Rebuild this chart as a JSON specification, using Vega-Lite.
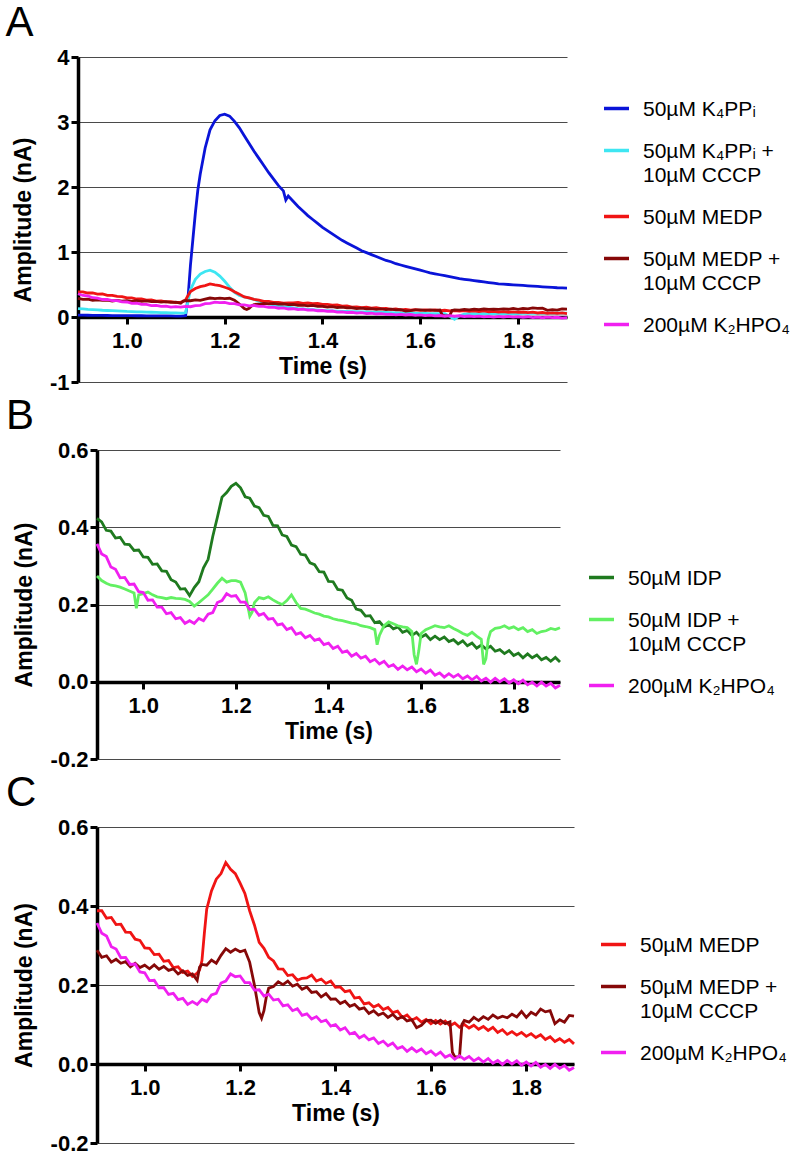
{
"$schema":"https://vega.github.io/schema/vega-lite/v6.json",
"background":"white",
"padding":{"left":5,"top":2,"right":5,"bottom":0},
"spacing":2,
"resolve":{"scale":{"color":"independent"},"legend":{"color":"independent"}},
"datasets":{"traces":[
{"t":0.90,"P":0.03,"PC":0.13,"M":0.388,"MC":0.288,"H":0.357,"I":0.423,"IC":0.274},
{"t":0.91,"P":0.028,"PC":0.124,"M":0.388,"MC":0.270,"H":0.331,"I":0.414,"IC":0.262},
{"t":0.92,"P":0.027,"PC":0.118,"M":0.369,"MC":0.274,"H":0.324,"I":0.392,"IC":0.255},
{"t":0.93,"P":0.026,"PC":0.114,"M":0.371,"MC":0.258,"H":0.297,"I":0.390,"IC":0.250},
{"t":0.94,"P":0.025,"PC":0.110,"M":0.353,"MC":0.265,"H":0.291,"I":0.372,"IC":0.248},
{"t":0.95,"P":0.024,"PC":0.104,"M":0.354,"MC":0.255,"H":0.269,"I":0.374,"IC":0.245},
{"t":0.96,"P":0.023,"PC":0.100,"M":0.334,"MC":0.259,"H":0.270,"I":0.356,"IC":0.240},
{"t":0.97,"P":0.022,"PC":0.097,"M":0.333,"MC":0.246,"H":0.252,"I":0.355,"IC":0.235},
{"t":0.98,"P":0.022,"PC":0.093,"M":0.316,"MC":0.255,"H":0.253,"I":0.340,"IC":0.230},
{"t":0.985,"IC":0.19},
{"t":0.99,"P":0.021,"PC":0.090,"M":0.313,"MC":0.244,"H":0.233,"I":0.341,"IC":0.225},
{"t":1.00,"P":0.020,"PC":0.085,"M":0.294,"MC":0.250,"H":0.231,"I":0.323,"IC":0.228},
{"t":1.01,"P":0.020,"PC":0.083,"M":0.293,"MC":0.241,"H":0.211,"I":0.322,"IC":0.232},
{"t":1.02,"P":0.019,"PC":0.080,"M":0.277,"MC":0.251,"H":0.212,"I":0.304,"IC":0.225},
{"t":1.03,"P":0.019,"PC":0.078,"M":0.278,"MC":0.240,"H":0.193,"I":0.305,"IC":0.220},
{"t":1.04,"P":0.018,"PC":0.075,"M":0.260,"MC":0.247,"H":0.193,"I":0.287,"IC":0.218},
{"t":1.05,"P":0.018,"PC":0.073,"M":0.262,"MC":0.237,"H":0.176,"I":0.286,"IC":0.215},
{"t":1.06,"P":0.017,"PC":0.071,"M":0.244,"MC":0.241,"H":0.179,"I":0.264,"IC":0.218},
{"t":1.07,"P":0.017,"PC":0.068,"M":0.246,"MC":0.228,"H":0.163,"I":0.258,"IC":0.216},
{"t":1.08,"P":0.016,"PC":0.066,"M":0.232,"MC":0.236,"H":0.166,"I":0.240,"IC":0.215},
{"t":1.09,"P":0.016,"PC":0.064,"M":0.235,"MC":0.224,"H":0.151,"I":0.241,"IC":0.213},
{"t":1.10,"P":0.015,"PC":0.062,"M":0.222,"MC":0.228,"H":0.158,"I":0.223,"IC":0.208},
{"t":1.11,"P":0.015,"PC":0.060,"M":0.230,"MC":0.212,"H":0.151,"I":0.244,"IC":0.196},
{"t":1.115,"M":0.238,"MC":0.245},
{"t":1.12,"P":0.02,"PC":0.065,"M":0.262,"MC":0.252,"H":0.164,"I":0.259,"IC":0.205},
{"t":1.125,"P":0.3,"M":0.33},
{"t":1.13,"P":0.8,"PC":0.42,"M":0.392,"MC":0.250,"H":0.158,"I":0.295,"IC":0.215},
{"t":1.135,"P":1.2},
{"t":1.14,"P":1.6,"PC":0.58,"M":0.438,"MC":0.263,"H":0.175,"I":0.317,"IC":0.225},
{"t":1.145,"P":1.95},
{"t":1.15,"P":2.2,"PC":0.66,"M":0.468,"MC":0.255,"H":0.179,"I":0.376,"IC":0.240},
{"t":1.16,"P":2.6,"PC":0.70,"M":0.482,"MC":0.275,"H":0.205,"I":0.426,"IC":0.255},
{"t":1.17,"P":2.88,"PC":0.72,"M":0.510,"MC":0.292,"H":0.210,"I":0.478,"IC":0.268},
{"t":1.18,"P":3.02,"PC":0.69,"M":0.493,"MC":0.283,"H":0.228,"I":0.490,"IC":0.258},
{"t":1.19,"P":3.1,"PC":0.63,"M":0.482,"MC":0.291,"H":0.221,"I":0.506,"IC":0.262},
{"t":1.20,"P":3.12,"PC":0.55,"M":0.458,"MC":0.284,"H":0.223,"I":0.514,"IC":0.262},
{"t":1.21,"P":3.09,"PC":0.46,"M":0.432,"MC":0.288,"H":0.206,"I":0.502,"IC":0.258},
{"t":1.22,"P":3.01,"PC":0.38,"M":0.388,"MC":0.258,"H":0.206,"I":0.479,"IC":0.23},
{"t":1.225,"IC":0.2},
{"t":1.23,"P":2.91,"PC":0.33,"M":0.352,"MC":0.200,"H":0.187,"I":0.475,"IC":0.17},
{"t":1.235,"IC":0.18},
{"t":1.24,"P":2.79,"PC":0.31,"M":0.308,"MC":0.130,"H":0.188,"I":0.455,"IC":0.205},
{"t":1.245,"MC":0.116},
{"t":1.25,"P":2.67,"PC":0.29,"M":0.293,"MC":0.135,"H":0.172,"I":0.451,"IC":0.218},
{"t":1.255,"MC":0.17},
{"t":1.26,"P":2.55,"PC":0.27,"M":0.270,"MC":0.192,"H":0.177,"I":0.431,"IC":0.215},
{"t":1.27,"P":2.44,"PC":0.245,"M":0.261,"MC":0.196,"H":0.162,"I":0.428,"IC":0.22},
{"t":1.28,"P":2.33,"PC":0.22,"M":0.241,"MC":0.208,"H":0.164,"I":0.405,"IC":0.212},
{"t":1.29,"P":2.22,"PC":0.20,"M":0.240,"MC":0.201,"H":0.147,"I":0.404,"IC":0.205},
{"t":1.30,"P":2.12,"PC":0.185,"M":0.224,"MC":0.210,"H":0.150,"I":0.380,"IC":0.20},
{"t":1.31,"P":2.02,"PC":0.172,"M":0.226,"MC":0.197,"H":0.135,"I":0.376,"IC":0.21},
{"t":1.32,"P":1.94,"PC":0.16,"M":0.212,"MC":0.202,"H":0.140,"I":0.354,"IC":0.225},
{"t":1.325,"P":1.8},
{"t":1.33,"P":1.86,"PC":0.15,"M":0.217,"MC":0.189,"H":0.123,"I":0.350,"IC":0.205},
{"t":1.34,"P":1.78,"PC":0.14,"M":0.218,"MC":0.195,"H":0.127,"I":0.330,"IC":0.19},
{"t":1.35,"P":1.70,"PC":0.13,"M":0.225,"MC":0.181,"H":0.114,"I":0.328,"IC":0.188},
{"t":1.36,"P":1.63,"PC":0.124,"M":0.210,"MC":0.183,"H":0.120,"I":0.308,"IC":0.183},
{"t":1.37,"P":1.56,"PC":0.118,"M":0.215,"MC":0.170,"H":0.107,"I":0.303,"IC":0.178},
{"t":1.38,"P":1.50,"PC":0.112,"M":0.204,"MC":0.178,"H":0.111,"I":0.285,"IC":0.175},
{"t":1.39,"P":1.44,"PC":0.106,"M":0.210,"MC":0.164,"H":0.096,"I":0.284,"IC":0.17},
{"t":1.40,"P":1.38,"PC":0.100,"M":0.194,"MC":0.165,"H":0.100,"I":0.260,"IC":0.168},
{"t":1.41,"P":1.33,"PC":0.097,"M":0.195,"MC":0.153,"H":0.086,"I":0.259,"IC":0.163},
{"t":1.42,"P":1.28,"PC":0.094,"M":0.183,"MC":0.159,"H":0.092,"I":0.239,"IC":0.16},
{"t":1.43,"P":1.23,"PC":0.091,"M":0.186,"MC":0.146,"H":0.076,"I":0.237,"IC":0.158},
{"t":1.44,"P":1.18,"PC":0.088,"M":0.167,"MC":0.151,"H":0.080,"I":0.217,"IC":0.155},
{"t":1.45,"P":1.14,"PC":0.085,"M":0.169,"MC":0.139,"H":0.066,"I":0.211,"IC":0.152},
{"t":1.46,"P":1.10,"PC":0.083,"M":0.152,"MC":0.142,"H":0.073,"I":0.188,"IC":0.15},
{"t":1.47,"P":1.06,"PC":0.081,"M":0.155,"MC":0.128,"H":0.061,"I":0.185,"IC":0.145},
{"t":1.48,"P":1.02,"PC":0.079,"M":0.144,"MC":0.135,"H":0.066,"I":0.170,"IC":0.143},
{"t":1.49,"P":0.99,"PC":0.077,"M":0.150,"MC":0.124,"H":0.052,"I":0.171,"IC":0.14},
{"t":1.50,"P":0.96,"PC":0.075,"M":0.138,"MC":0.129,"H":0.058,"I":0.153,"IC":0.135},
{"t":1.505,"IC":0.096},
{"t":1.51,"P":0.93,"PC":0.073,"M":0.143,"MC":0.118,"H":0.046,"I":0.156,"IC":0.12},
{"t":1.52,"P":0.90,"PC":0.071,"M":0.130,"MC":0.126,"H":0.053,"I":0.142,"IC":0.145},
{"t":1.53,"P":0.87,"PC":0.069,"M":0.134,"MC":0.114,"H":0.039,"I":0.148,"IC":0.155},
{"t":1.54,"P":0.85,"PC":0.067,"M":0.118,"MC":0.120,"H":0.044,"I":0.137,"IC":0.15},
{"t":1.55,"P":0.82,"PC":0.065,"M":0.124,"MC":0.109,"H":0.032,"I":0.142,"IC":0.145},
{"t":1.56,"P":0.80,"PC":0.063,"M":0.111,"MC":0.112,"H":0.041,"I":0.128,"IC":0.142},
{"t":1.57,"P":0.78,"PC":0.061,"M":0.117,"MC":0.092,"H":0.031,"I":0.133,"IC":0.14},
{"t":1.58,"P":0.76,"PC":0.059,"M":0.106,"MC":0.098,"H":0.038,"I":0.120,"IC":0.13},
{"t":1.585,"IC":0.07},
{"t":1.59,"P":0.74,"PC":0.057,"M":0.113,"MC":0.110,"H":0.026,"I":0.128,"IC":0.045},
{"t":1.595,"IC":0.08},
{"t":1.60,"P":0.72,"PC":0.055,"M":0.102,"MC":0.111,"H":0.033,"I":0.115,"IC":0.125},
{"t":1.61,"P":0.70,"PC":0.054,"M":0.110,"MC":0.103,"H":0.022,"I":0.122,"IC":0.135},
{"t":1.62,"P":0.68,"PC":0.053,"M":0.101,"MC":0.111,"H":0.030,"I":0.109,"IC":0.14},
{"t":1.63,"P":0.665,"PC":0.052,"M":0.109,"MC":0.102,"H":0.017,"I":0.118,"IC":0.145},
{"t":1.64,"P":0.65,"PC":0.051,"M":0.097,"MC":0.107,"H":0.023,"I":0.109,"IC":0.142},
{"t":1.645,"MC":0.03},
{"t":1.65,"P":0.635,"PC":0.05,"M":0.104,"MC":0.018,"H":0.012,"I":0.116,"IC":0.14},
{"t":1.66,"P":0.62,"PC":0.01,"M":0.093,"MC":0.018,"H":0.021,"I":0.104,"IC":0.145},
{"t":1.665,"MC":0.1},
{"t":1.67,"P":0.605,"PC":-0.035,"M":0.100,"MC":0.110,"H":0.012,"I":0.109,"IC":0.138},
{"t":1.68,"P":0.59,"PC":0.02,"M":0.091,"MC":0.106,"H":0.019,"I":0.098,"IC":0.132},
{"t":1.69,"P":0.58,"PC":0.045,"M":0.098,"MC":0.118,"H":0.008,"I":0.106,"IC":0.125},
{"t":1.70,"P":0.57,"PC":0.05,"M":0.088,"MC":0.110,"H":0.015,"I":0.093,"IC":0.12},
{"t":1.71,"P":0.56,"PC":0.051,"M":0.095,"MC":0.120,"H":0.005,"I":0.100,"IC":0.128},
{"t":1.72,"P":0.55,"PC":0.05,"M":0.085,"MC":0.113,"H":0.014,"I":0.087,"IC":0.118},
{"t":1.73,"P":0.54,"PC":0.052,"M":0.093,"MC":0.124,"H":0.002,"I":0.095,"IC":0.11},
{"t":1.735,"IC":0.045},
{"t":1.74,"P":0.53,"PC":0.051,"M":0.080,"MC":0.116,"H":0.009,"I":0.085,"IC":0.06},
{"t":1.745,"IC":0.11},
{"t":1.75,"P":0.52,"PC":0.053,"M":0.087,"MC":0.121,"H":-0.001,"I":0.092,"IC":0.13},
{"t":1.76,"P":0.51,"PC":0.052,"M":0.075,"MC":0.117,"H":0.009,"I":0.079,"IC":0.138},
{"t":1.77,"P":0.505,"PC":0.054,"M":0.082,"MC":0.126,"H":0.000,"I":0.083,"IC":0.14},
{"t":1.78,"P":0.50,"PC":0.053,"M":0.073,"MC":0.119,"H":0.008,"I":0.073,"IC":0.145},
{"t":1.79,"P":0.495,"PC":0.055,"M":0.080,"MC":0.133,"H":-0.003,"I":0.081,"IC":0.138},
{"t":1.80,"P":0.49,"PC":0.054,"M":0.070,"MC":0.118,"H":0.005,"I":0.068,"IC":0.142},
{"t":1.81,"P":0.485,"PC":0.056,"M":0.077,"MC":0.131,"H":-0.005,"I":0.074,"IC":0.135},
{"t":1.82,"P":0.48,"PC":0.055,"M":0.067,"MC":0.124,"H":0.004,"I":0.062,"IC":0.14},
{"t":1.83,"P":0.475,"PC":0.057,"M":0.074,"MC":0.139,"H":-0.008,"I":0.072,"IC":0.13},
{"t":1.84,"P":0.47,"PC":0.056,"M":0.062,"MC":0.132,"H":-0.001,"I":0.062,"IC":0.135},
{"t":1.85,"P":0.465,"PC":0.058,"M":0.069,"MC":0.135,"H":-0.011,"I":0.069,"IC":0.125},
{"t":1.86,"P":0.46,"PC":0.057,"M":0.057,"MC":0.102,"H":-0.001,"I":0.057,"IC":0.13},
{"t":1.87,"P":0.455,"PC":0.059,"M":0.064,"MC":0.112,"H":-0.011,"I":0.063,"IC":0.132},
{"t":1.88,"P":0.45,"PC":0.058,"M":0.055,"MC":0.106,"H":-0.004,"I":0.053,"IC":0.138},
{"t":1.89,"P":0.447,"PC":0.06,"M":0.062,"MC":0.123,"H":-0.016,"I":0.063,"IC":0.135},
{"t":1.90,"P":0.445,"PC":0.06,"M":0.051,"MC":0.121,"H":-0.009,"I":0.051,"IC":0.14}
]},
"config":{
"view":{"stroke":null},
"font":"Liberation Sans",
"axis":{"labelFont":"Liberation Sans","labelFontSize":22,"labelFontWeight":"bold","labelColor":"#000","titleFont":"Liberation Sans","titleFontSize":23,"titleFontWeight":"bold","titleColor":"#000","domainColor":"#000","domainWidth":3.5,"tickColor":"#000","tickWidth":3,"tickSize":7,"gridColor":"#4a4a4a","gridWidth":1.2},
"axisX":{"labelPadding":6,"titlePadding":4,"labelFlush":false},
"axisY":{"labelPadding":2,"titlePadding":14},
"legend":{"orient":"none","labelFont":"Liberation Sans","labelFontSize":21,"labelColor":"#000","symbolType":"stroke","symbolSize":625,"symbolStrokeWidth":3.5,"labelOffset":12,"rowPadding":16,"padding":0,"labelLimit":400,"labelBaseline":"alphabetic"},
"title":{"font":"Liberation Sans","fontSize":42,"fontWeight":"normal","anchor":"start","frame":"bounds","color":"#000","offset":1}
},
"vconcat":[
{"vconcat":[{
"title":{"text":"A","dx":-7},
"width":470,"height":325,
"data":{"name":"traces"},
"transform":[{"fold":["P","PC","M","MC","H"],"as":["s","v"]}],
"mark":{"type":"line","strokeWidth":2.8,"invalid":"filter"},
"encoding":{
"x":{"field":"t","type":"quantitative","scale":{"domain":[0.9,1.9],"nice":false,"zero":false,"range":[-19,470]},"axis":{"title":"Time (s)","values":[1,1.2,1.4,1.6,1.8],"format":".1f","grid":false,"offset":-65}},
"y":{"field":"v","type":"quantitative","scale":{"domain":[-1,4],"nice":false,"zero":false},"axis":{"title":"Amplitude (nA)","values":[-1,0,1,2,3,4],"format":"d","grid":true,"offset":19,"labelExpr":"replace(datum.label,'−','-')"}},
"color":{"field":"s","type":"nominal","scale":{"domain":["P","PC","M","MC","H"],"range":["#0a14d8","#3ee6f2","#f01414","#860808","#f020f0"]},
"legend":{"title":null,"legendX":505,"legendY":37,"labelExpr":"datum.value == 'P' ? '50µM K₄PPᵢ' : datum.value == 'PC' ? ['50µM K₄PPᵢ +', '10µM CCCP'] : datum.value == 'M' ? '50µM MEDP' : datum.value == 'MC' ? ['50µM MEDP +', '10µM CCCP'] : '200µM K₂HPO₄'","encode":{"labels":{"update":{"dy":{"value":7},"lineHeight":{"value":24}}}}}}
}
}]},
{"vconcat":[{
"title":{"text":"B","dx":-7},
"width":463,"height":309,
"data":{"name":"traces"},
"transform":[{"fold":["I","IC","H"],"as":["s","v"]}],
"mark":{"type":"line","strokeWidth":2.8,"invalid":"filter"},
"encoding":{
"x":{"field":"t","type":"quantitative","scale":{"domain":[0.9,1.9],"nice":false,"zero":false},"axis":{"title":"Time (s)","values":[1,1.2,1.4,1.6,1.8],"format":".1f","grid":false,"offset":-77}},
"y":{"field":"v","type":"quantitative","scale":{"domain":[-0.2,0.6],"nice":false,"zero":false},"axis":{"title":"Amplitude (nA)","values":[-0.2,0,0.2,0.4,0.6],"format":".1f","grid":true,"labelExpr":"replace(datum.label,'−','-')"}},
"color":{"field":"s","type":"nominal","scale":{"domain":["I","IC","H"],"range":["#1f7a1f","#62f062","#f020f0"]},
"legend":{"title":null,"legendX":490,"legendY":113,"labelExpr":"datum.value == 'I' ? '50µM IDP' : datum.value == 'IC' ? ['50µM IDP +', '10µM CCCP'] : '200µM K₂HPO₄'","encode":{"labels":{"update":{"dy":{"value":7},"lineHeight":{"value":24}}}}}}
}
}]},
{"vconcat":[{
"title":{"text":"C","dx":-7},
"width":477,"height":316,
"data":{"name":"traces"},
"transform":[{"fold":["M","MC","H"],"as":["s","v"]}],
"mark":{"type":"line","strokeWidth":2.8,"invalid":"filter"},
"encoding":{
"x":{"field":"t","type":"quantitative","scale":{"domain":[0.9,1.9],"nice":false,"zero":false},"axis":{"title":"Time (s)","values":[1,1.2,1.4,1.6,1.8],"format":".1f","grid":false,"offset":-79}},
"y":{"field":"v","type":"quantitative","scale":{"domain":[-0.2,0.6],"nice":false,"zero":false},"axis":{"title":"Amplitude (nA)","values":[-0.2,0,0.2,0.4,0.6],"format":".1f","grid":true,"labelExpr":"replace(datum.label,'−','-')"}},
"color":{"field":"s","type":"nominal","scale":{"domain":["M","MC","H"],"range":["#f01414","#860808","#f020f0"]},
"legend":{"title":null,"legendX":502,"legendY":103,"labelExpr":"datum.value == 'M' ? '50µM MEDP' : datum.value == 'MC' ? ['50µM MEDP +', '10µM CCCP'] : '200µM K₂HPO₄'","encode":{"labels":{"update":{"dy":{"value":7},"lineHeight":{"value":24}}}}}}
}
}]}
]
}
